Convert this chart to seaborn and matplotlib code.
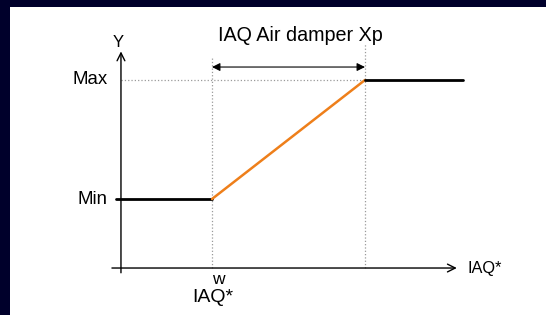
import matplotlib
matplotlib.use("Agg")
import matplotlib.pyplot as plt
from matplotlib.patches import Rectangle
import seaborn as sns
import pandas as pd

# ---- data (conceptual units: w -> 0, w + Xp -> 1 ; Min -> 0, Max -> 1) ----
level_labels = ["Min", "Max"]
level_values = [0.0, 1.0]
x_breaks = [0.0, 1.0]            # w, w + Xp
low_x = [-0.63, 0.0]
low_y = [0.0, 0.0]
ramp_x = [0.0, 1.0]
ramp_y = [0.0, 1.0]
high_x = [1.0, 1.64]
high_y = [1.0, 1.0]
title_text = "IAQ Air damper Xp"
x_axis_label = "IAQ*"
y_axis_label = "Y"
w_label = "w"
w_sub_label = "IAQ*"

sns.set_theme(style="white")
plt.rcParams["font.family"] = ["Liberation Sans", "DejaVu Sans"]

W, H = 546, 315
fig = plt.figure(figsize=(W / 100, H / 100), dpi=100)
fig.patch.set_facecolor("#00002B")
fig.patches.append(Rectangle((10 / W, 0), 1, 1 - 7 / H, transform=fig.transFigure,
                             facecolor="white", edgecolor="none", zorder=-10))

ax = fig.add_axes([0, 0, 1, 1])
ax.set_facecolor("none")
ax.set_xlim(-212 / 153, (546 - 212) / 153)
ax.set_ylim((199 - 315) / 119, 199 / 119)
ax.axis("off")

x_axis_y = -0.58
y_axis_x = -0.595

# axes arrows
ax.annotate("", xy=(1.60, x_axis_y), xytext=(-0.654, x_axis_y),
            arrowprops=dict(arrowstyle="->", color="black", lw=1.0,
                            mutation_scale=14, shrinkA=0, shrinkB=0))
ax.annotate("", xy=(y_axis_x, 1.24), xytext=(y_axis_x, -0.62),
            arrowprops=dict(arrowstyle="->", color="black", lw=1.0,
                            mutation_scale=14, shrinkA=0, shrinkB=0))

# dotted guides
ax.plot([x_breaks[0], x_breaks[0]], [x_axis_y, 1.19], color="#9a9a9a", lw=0.9, ls=":")
ax.plot([x_breaks[1], x_breaks[1]], [x_axis_y, 1.30], color="#9a9a9a", lw=0.9, ls=":")
ax.plot([y_axis_x, x_breaks[1]], [level_values[1], level_values[1]],
        color="#9a9a9a", lw=0.9, ls=":")

# curve
sns.lineplot(x=low_x, y=low_y, ax=ax, color="black", lw=2.0, sort=False)
sns.lineplot(x=ramp_x, y=ramp_y, ax=ax, color="#EE7F1A", lw=1.8, sort=False)
sns.lineplot(x=high_x, y=high_y, ax=ax, color="black", lw=2.0, sort=False)

# Xp double arrow
ax.annotate("", xy=(x_breaks[1], 1.109), xytext=(x_breaks[0], 1.109),
            arrowprops=dict(arrowstyle="<|-|>", color="black", lw=0.8,
                            mutation_scale=12, shrinkA=0, shrinkB=0))

ax.text(0.575, 1.37, title_text, ha="center", va="center", fontsize=14.2, color="black")
ax.text(-0.614, 1.311, y_axis_label, ha="center", va="center", fontsize=12, color="black")
for lab, val in zip(level_labels, level_values):
    ax.text(-0.68, val, lab, ha="right", va="center", fontsize=13.4, color="black")
ax.text(1.673, -0.588, x_axis_label, ha="left", va="center", fontsize=11.8, color="black")
ax.text(0.04, -0.68, w_label, ha="center", va="center", fontsize=12.5, color="black")
ax.text(0.003, -0.828, w_sub_label, ha="center", va="center", fontsize=14, color="black")

fig.savefig("out.png", dpi=100, facecolor=fig.get_facecolor())
